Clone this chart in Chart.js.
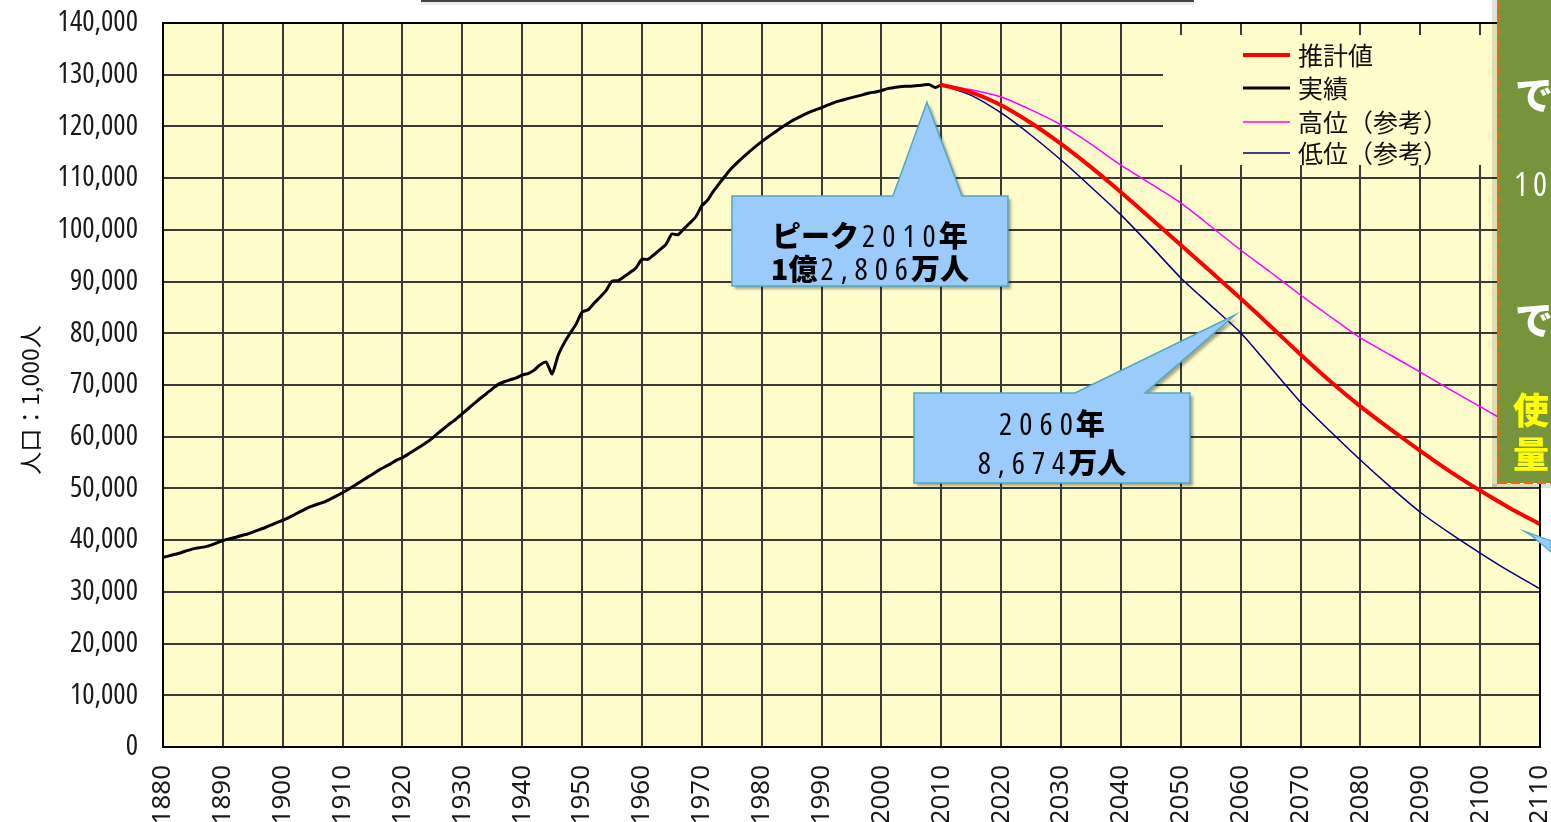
<!DOCTYPE html>
<html>
<head>
<meta charset="utf-8">
<script src="https://cdn.jsdelivr.net/npm/chart.js@4/dist/chart.umd.min.js"></script>
<style>
  html, body { margin: 0; padding: 0; background: #ffffff; }
  #wrap { position: relative; width: 1551px; height: 822px; overflow: hidden; }
  canvas { display: block; }
</style>
</head>
<body>
<div id="wrap"><canvas id="pop" width="1551" height="822"></canvas></div>
<script>
// ---- Series (population, thousands) ----
const histYears = [
  1880,1881,1882,1883,1884,1885,1886,1887,1888,1889,
  1890,1891,1892,1893,1894,1895,1896,1897,1898,1899,
  1900,1901,1902,1903,1904,1905,1906,1907,1908,1909,
  1910,1911,1912,1913,1914,1915,1916,1917,1918,1919,
  1920,1921,1922,1923,1924,1925,1926,1927,1928,1929,
  1930,1931,1932,1933,1934,1935,1936,1937,1938,1939,
  1940,1941,1942,1943,1944,1945,1946,1947,1948,1949,
  1950,1951,1952,1953,1954,1955,1956,1957,1958,1959,
  1960,1961,1962,1963,1964,1965,1966,1967,1968,1969,
  1970,1971,1972,1973,1974,1975,1976,1977,1978,1979,
  1980,1981,1982,1983,1984,1985,1986,1987,1988,1989,
  1990,1991,1992,1993,1994,1995,1996,1997,1998,1999,
  2000,2001,2002,2003,2004,2005,2006,2007,2008,2009,
  2010
];
const histActual = [
  36649,36965,37259,37569,37962,38313,38541,38703,39029,39473,
  39902,40251,40508,40860,41142,41557,41992,42400,42886,43404,
  43847,44359,44964,45546,46135,46620,47038,47416,47965,48554,
  49184,49852,50577,51305,52039,52752,53496,54134,54739,55473,
  55963,56666,57390,58119,58876,59737,60741,61659,62595,63461,
  64450,65457,66434,67432,68309,69254,70114,70630,71013,71380,
  71933,72218,72880,73903,74433,72147,75750,78101,80002,81773,
  84115,84541,85808,86981,88239,90077,90172,90928,91767,92641,
  94302,94287,95181,96156,97182,99209,99036,100196,101331,102536,
  104665,105800,107595,109104,110573,111940,113094,114165,115190,116155,
  117060,117902,118728,119536,120305,121049,121660,122239,122745,123205,
  123611,124101,124567,124938,125265,125570,125859,126157,126472,126667,
  126926,127316,127486,127694,127787,127768,127901,128033,128084,127510,
  128057
];
const projYears = [2010,2015,2020,2025,2030,2035,2040,2045,2050,2055,2060,
                   2065,2070,2075,2080,2085,2090,2095,2100,2105,2110];
const projMedium = [128057,126597,124100,120659,116618,112124,107276,102210,97076,91933,86737,
                    81355,75904,70689,65875,61482,57269,53265,49591,46175,43100];
const projHigh   = [128057,127100,125700,123200,120300,116600,112500,108900,105200,100700,96100,
                    91800,87400,83200,79100,75800,72500,69100,65800,62500,59500];
const projLow    = [128057,126000,122600,118300,113500,108300,102900,96900,90700,85400,80100,
                    73400,66700,61000,55500,50300,45400,41300,37500,33900,30600];

const seriesNames = ['推計値', '実績', '高位（参考）', '低位（参考）'];
const xTickStart = 1880, xTickEnd = 2110, xTickStep = 10;
const yTickMax = 140000, yTickStep = 10000;
const yTitle = '人口：1,000人';

// Callout texts: each line is a list of [text, style] runs
const peakCallout = [
  [['ピーク', 'bold'], ['2010', 'num'], ['年', 'bold']],
  [['1億', 'bold'], ['2,806', 'num'], ['万人', 'bold']]
];
const callout2060 = [
  [['2060', 'num'], ['年', 'bold']],
  [['8,674', 'num'], ['万人', 'bold']]
];

const toPoints = (xs, ys) => xs.map((x, i) => ({ x: x, y: ys[i] }));

// ---- drawing helpers ----
const FONTS = {
  bold: { font: '900 29px "Noto Sans CJK JP"', spacing: 0 },
  num:  { font: 'condensed 31px "Open Sans"', spacing: 7 }
};

function runWidth(ctx, text, style) {
  const f = FONTS[style];
  ctx.font = f.font;
  let w = 0;
  for (const ch of text) w += ctx.measureText(ch).width + f.spacing;
  return w - f.spacing;
}

function drawLine(ctx, runs, cx, baseline) {
  let total = 0;
  const gaps = 3;
  runs.forEach((r, i) => { total += runWidth(ctx, r[0], r[1]) + (i ? gaps : 0); });
  let x = cx - total / 2;
  ctx.fillStyle = '#000000';
  ctx.textBaseline = 'alphabetic';
  ctx.textAlign = 'left';
  runs.forEach((r, i) => {
    if (i) x += gaps;
    const f = FONTS[r[1]];
    ctx.font = f.font;
    for (const ch of r[0]) {
      ctx.fillText(ch, x, baseline);
      x += ctx.measureText(ch).width + f.spacing;
    }
    x -= f.spacing;
  });
}

function drawCallout(ctx, poly, lines, cx, baselines) {
  ctx.save();
  ctx.shadowColor = 'rgba(0,0,0,0.35)';
  ctx.shadowBlur = 3;
  ctx.shadowOffsetX = 3;
  ctx.shadowOffsetY = 3;
  ctx.beginPath();
  poly.forEach((p, i) => i ? ctx.lineTo(p[0], p[1]) : ctx.moveTo(p[0], p[1]));
  ctx.closePath();
  ctx.fillStyle = '#9ACBFB';
  ctx.fill();
  ctx.restore();
  ctx.save();
  ctx.beginPath();
  poly.forEach((p, i) => i ? ctx.lineTo(p[0], p[1]) : ctx.moveTo(p[0], p[1]));
  ctx.closePath();
  ctx.strokeStyle = '#4FA9C4';
  ctx.lineWidth = 1.5;
  ctx.stroke();
  lines.forEach((ln, i) => drawLine(ctx, ln, cx, baselines[i]));
  ctx.restore();
}

// plot background
const plotBackground = {
  id: 'plotBackground',
  beforeDraw(chart) {
    const { ctx, chartArea: a } = chart;
    ctx.save();
    ctx.fillStyle = '#FFFCCB';
    ctx.fillRect(a.left, a.top, a.right - a.left, a.bottom - a.top);
    ctx.restore();
  }
};

// legend box inside the plot, painted over the grid
const innerLegend = {
  id: 'innerLegend',
  beforeDatasetsDraw(chart) {
    const { ctx, chartArea: a } = chart;
    const left = a.right - 377, top = a.top + 12;
    ctx.save();
    ctx.fillStyle = '#FFFCCB';
    ctx.fillRect(left, top, 380, 130);
    ctx.font = '25px "Noto Sans CJK JP"';
    ctx.textBaseline = 'middle';
    ctx.textAlign = 'left';
    const rows = [top + 20, top + 53, top + 87, top + 118];
    chart.data.datasets.forEach((ds, i) => {
      ctx.strokeStyle = ds.borderColor;
      ctx.lineWidth = ds.borderWidth;
      ctx.beginPath();
      ctx.moveTo(left + 80, rows[i]);
      ctx.lineTo(left + 127, rows[i]);
      ctx.stroke();
      ctx.fillStyle = '#111';
      ctx.fillText(ds.label, left + 135, rows[i]);
    });
    ctx.restore();
  }
};

// value-axis title, a little below the middle of the axis
const axisTitle = {
  id: 'axisTitle',
  afterDraw(chart) {
    const { ctx, chartArea: a } = chart;
    ctx.save();
    ctx.translate(30, (a.top + a.bottom) / 2 + 15);
    ctx.rotate(-Math.PI / 2);
    ctx.font = '23px "Noto Sans CJK JP"';
    ctx.fillStyle = '#111';
    ctx.textAlign = 'center';
    ctx.textBaseline = 'middle';
    ctx.fillText(yTitle, 0, 0);
    ctx.restore();
  }
};

// frame, callouts and side panel
const overlays = {
  id: 'overlays',
  afterDraw(chart) {
    const { ctx, chartArea: a } = chart;
    const xs = chart.scales.x, ys = chart.scales.y;
    ctx.save();
    ctx.strokeStyle = '#000';
    ctx.lineWidth = 2;
    ctx.strokeRect(a.left, a.top, a.right - a.left, a.bottom - a.top);

    // edge of the box above the plot
    ctx.fillStyle = 'rgba(0,0,0,0.08)';
    ctx.fillRect(421, 2, 773, 3);
    ctx.fillStyle = '#444';
    ctx.fillRect(421, 0, 773, 2);

    // peak callout, tip near the 2010 peak
    const p1x = xs.getPixelForValue(2007.6), p1y = ys.getPixelForValue(124700);
    const poly1 = [[p1x - 195, p1y + 94], [p1x - 34, p1y + 94], [p1x, p1y], [p1x + 35, p1y + 94],
                   [p1x + 81, p1y + 94], [p1x + 81, p1y + 184], [p1x - 195, p1y + 184]];
    drawCallout(ctx, poly1, peakCallout, p1x - 57, [p1y + 145, p1y + 178]);

    // 2060 callout
    const p2x = xs.getPixelForValue(2059.05), p2y = ys.getPixelForValue(83540);
    const poly2 = [[p2x - 321, p2y + 78], [p2x - 160, p2y + 78], [p2x, p2y], [p2x - 90, p2y + 78],
                   [p2x - 45, p2y + 78], [p2x - 45, p2y + 168], [p2x - 321, p2y + 168]];
    drawCallout(ctx, poly2, callout2060, p2x - 183, [p2y + 120, p2y + 159]);

    // tail of another callout entering from the right
    ctx.beginPath();
    ctx.moveTo(1524, 531); ctx.lineTo(1551, 541); ctx.lineTo(1551, 552); ctx.lineTo(1532, 536);
    ctx.closePath();
    ctx.fillStyle = '#9ACBFB'; ctx.fill();
    ctx.strokeStyle = '#4FA9C4'; ctx.lineWidth = 1.2; ctx.stroke();

    // side panel
    ctx.fillStyle = 'rgba(0,0,0,0.12)';
    ctx.fillRect(1492, -5, 5, 492);
    ctx.fillRect(1492, 484, 70, 4);
    ctx.fillStyle = '#77933C';
    ctx.fillRect(1497, -10, 70, 493);
    ctx.setLineDash([9, 4]);
    ctx.strokeStyle = '#E46C0A';
    ctx.lineWidth = 3;
    ctx.strokeRect(1498.5, -10, 70, 492.5);
    ctx.setLineDash([]);
    ctx.textAlign = 'left';
    ctx.textBaseline = 'alphabetic';
    ctx.fillStyle = '#FFFFFF';
    ctx.font = '900 38px "Noto Sans CJK JP"';
    ctx.fillText('で', 1515, 109);
    ctx.fillText('で', 1515, 334);
    ctx.font = 'condensed 33px "Open Sans"';
    ctx.fillText('1', 1514, 196);
    ctx.fillText('0', 1533, 196);
    ctx.fillStyle = '#FFFF00';
    ctx.font = '900 36px "Noto Sans CJK JP"';
    ctx.fillText('使', 1513, 424);
    ctx.fillText('量', 1513, 468);
    ctx.restore();
  }
};

// keep the plot rectangle fixed: labels may overhang the edges
const noOverhang = s => { s.paddingTop = 0; s.paddingBottom = 0; s.paddingLeft = 0; s.paddingRight = 0; };

const ctx = document.getElementById('pop').getContext('2d');
new Chart(ctx, {
  type: 'line',
  data: {
    datasets: [
      { label: seriesNames[0], data: toPoints(projYears, projMedium), borderColor: '#FF0000', borderWidth: 4 },
      { label: seriesNames[1], data: toPoints(histYears, histActual), borderColor: '#000000', borderWidth: 3 },
      { label: seriesNames[2], data: toPoints(projYears, projHigh),   borderColor: '#FF00FF', borderWidth: 1.5 },
      { label: seriesNames[3], data: toPoints(projYears, projLow),    borderColor: '#000080', borderWidth: 1.5 }
    ]
  },
  options: {
    responsive: false,
    animation: false,
    layout: { padding: { top: 23, right: 11, left: 0, bottom: 0 } },
    elements: { point: { radius: 0 }, line: { tension: 0.2, borderJoinStyle: 'round', borderCapStyle: 'round' } },
    plugins: { legend: { display: false }, tooltip: { enabled: false } },
    scales: {
      x: {
        type: 'linear', min: xTickStart, max: xTickEnd,
        ticks: {
          stepSize: xTickStep, autoSkip: false, maxRotation: 90, minRotation: 90,
          color: '#1a1a1a', padding: 18,
          font: { family: '"Noto Sans"', size: 26, weight: 'condensed' },
          callback: v => String(v)
        },
        grid: { color: '#3a3a3a', lineWidth: 2, drawTicks: false },
        border: { color: '#000', width: 2 },
        afterFit: s => { s.height = 75; noOverhang(s); }
      },
      y: {
        min: 0, max: yTickMax,
        ticks: {
          stepSize: yTickStep, color: '#1a1a1a', padding: 25,
          font: { family: '"Open Sans"', size: 29, weight: 'condensed' },
          callback: v => v.toLocaleString('en-US')
        },
        grid: { color: '#3a3a3a', lineWidth: 2, drawTicks: false },
        border: { color: '#000', width: 2 },
        afterFit: s => { s.width = 163; noOverhang(s); }
      }
    }
  },
  plugins: [plotBackground, innerLegend, axisTitle, overlays]
});
</script>
</body>
</html>
